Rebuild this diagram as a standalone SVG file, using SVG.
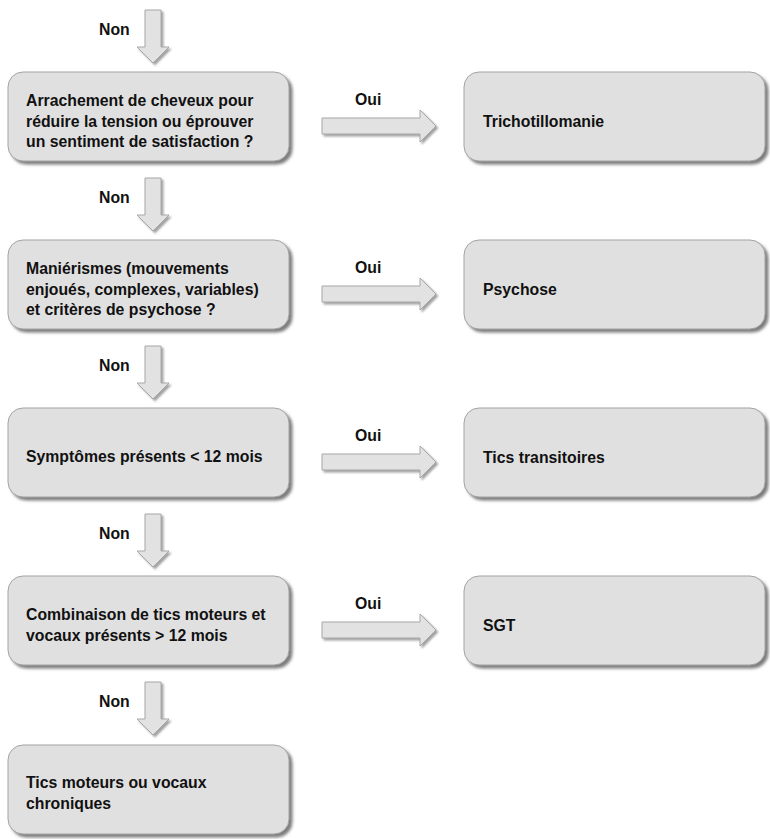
<svg xmlns="http://www.w3.org/2000/svg" width="770" height="839" viewBox="0 0 770 839">
<style>
.box{fill:#e0e0e0;stroke:#a3a3a3;stroke-width:1;filter:url(#sh)}
.arr{fill:#e2e2e2;stroke:#a8a8a8;stroke-width:1;filter:url(#sh2)}
text{font-family:"Liberation Sans",Arial,sans-serif;font-weight:bold;font-size:15.8px;fill:#111111}
</style>
<defs>
<filter id="sh" x="-5%" y="-10%" width="115%" height="130%">
<feDropShadow dx="3" dy="3" stdDeviation="1.4" flood-color="#6e6e6e" flood-opacity="0.9"/>
</filter>
<filter id="sh2" x="-20%" y="-20%" width="150%" height="150%">
<feDropShadow dx="2" dy="2" stdDeviation="1.2" flood-color="#8a8a8a" flood-opacity="0.8"/>
</filter>
</defs>
<rect width="770" height="839" fill="#ffffff"/>
<g id="connectors">
<polygon class="arr" points="145,10 161,10 161,47 169,47 153,63 137,47 145,47"/>
<text x="99" y="35">Non</text>
<polygon class="arr" points="145,178 161,178 161,215 169,215 153,231 137,215 145,215"/>
<text x="99" y="203">Non</text>
<polygon class="arr" points="145,346 161,346 161,383 169,383 153,399 137,383 145,383"/>
<text x="99" y="371">Non</text>
<polygon class="arr" points="145,514 161,514 161,551 169,551 153,567 137,551 145,551"/>
<text x="99" y="539">Non</text>
<polygon class="arr" points="145,682 161,682 161,719 169,719 153,735 137,719 145,719"/>
<text x="99" y="707">Non</text>
<polygon class="arr" points="322,118 420,118 420,110 436,126 420,142 420,134 322,134"/>
<text x="355" y="105">Oui</text>
<polygon class="arr" points="322,286 420,286 420,278 436,294 420,310 420,302 322,302"/>
<text x="355" y="273">Oui</text>
<polygon class="arr" points="322,454 420,454 420,446 436,462 420,478 420,470 322,470"/>
<text x="355" y="441">Oui</text>
<polygon class="arr" points="322,622 420,622 420,614 436,630 420,646 420,638 322,638"/>
<text x="355" y="609">Oui</text>
</g>
<g id="q1">
<rect class="box" x="8" y="72" width="281" height="89" rx="15"/>
<text x="26" y="106">Arrachement de cheveux pour</text>
<text x="26" y="126.5">réduire la tension ou éprouver</text>
<text x="26" y="147">un sentiment de satisfaction ?</text>
</g>
<g id="r1">
<rect class="box" x="464" y="72" width="301" height="89" rx="15"/>
<text x="483" y="127">Trichotillomanie</text>
</g>
<g id="q2">
<rect class="box" x="8" y="240" width="281" height="89" rx="15"/>
<text x="26" y="274">Maniérismes (mouvements</text>
<text x="26" y="294.5">enjoués, complexes, variables)</text>
<text x="26" y="315">et critères de psychose ?</text>
</g>
<g id="r2">
<rect class="box" x="464" y="240" width="301" height="89" rx="15"/>
<text x="483" y="295">Psychose</text>
</g>
<g id="q3">
<rect class="box" x="8" y="408" width="281" height="89" rx="15"/>
<text x="26" y="462">Symptômes présents &lt; 12 mois</text>
</g>
<g id="r3">
<rect class="box" x="464" y="408" width="301" height="89" rx="15"/>
<text x="483" y="463">Tics transitoires</text>
</g>
<g id="q4">
<rect class="box" x="8" y="576" width="281" height="89" rx="15"/>
<text x="26" y="620">Combinaison de tics moteurs et</text>
<text x="26" y="641">vocaux présents &gt; 12 mois</text>
</g>
<g id="r4">
<rect class="box" x="464" y="576" width="301" height="89" rx="15"/>
<text x="483" y="631">SGT</text>
</g>
<g id="end">
<rect class="box" x="8" y="745" width="281" height="89" rx="15"/>
<text x="26" y="788">Tics moteurs ou vocaux</text>
<text x="26" y="809">chroniques</text>
</g>
</svg>
